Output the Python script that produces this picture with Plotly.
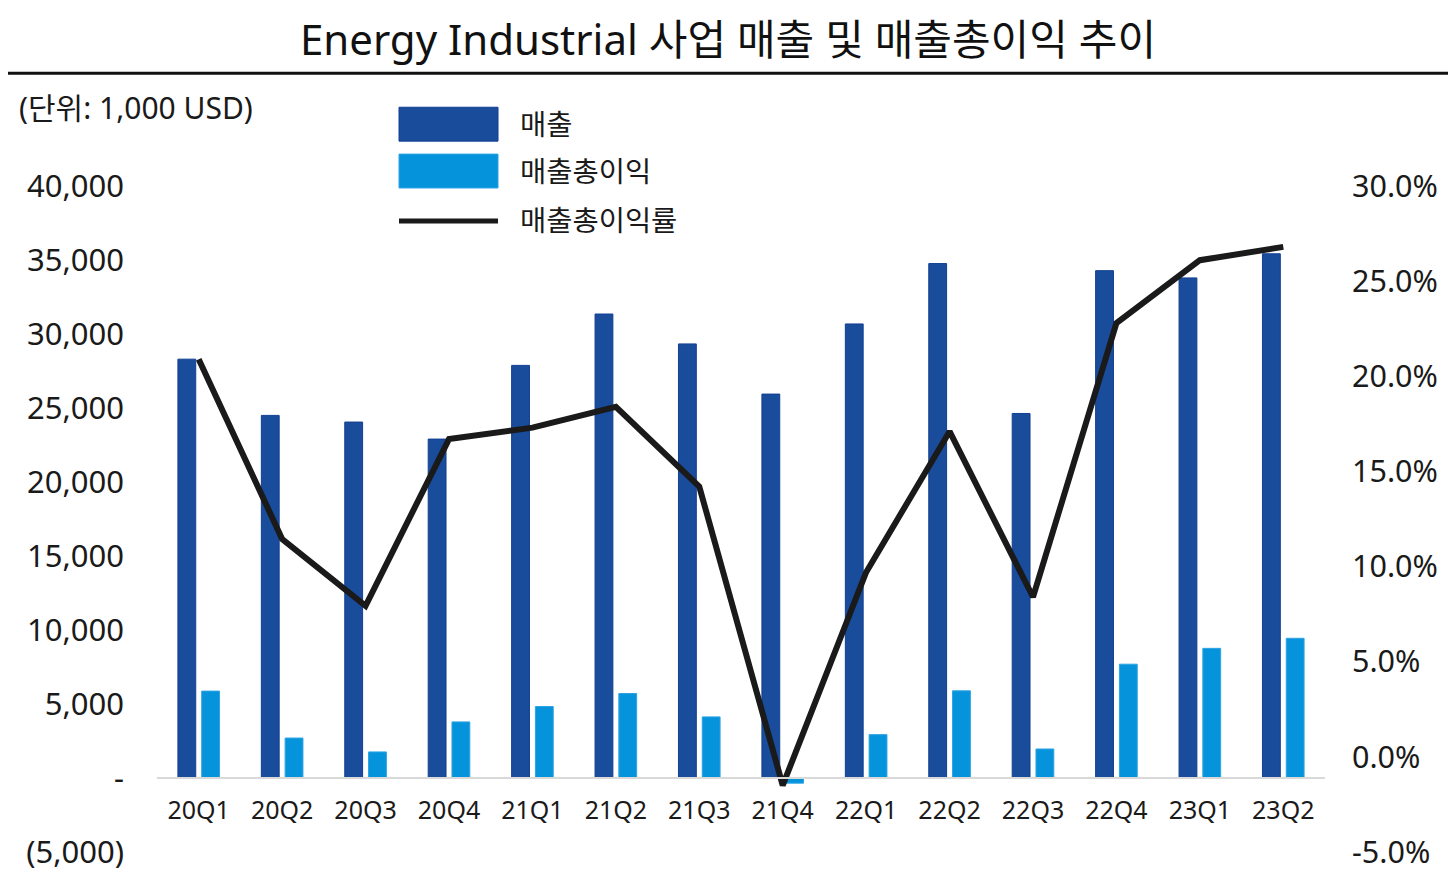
import plotly.graph_objects as go

# ---- data ----
quarters = ["20Q1", "20Q2", "20Q3", "20Q4", "21Q1", "21Q2", "21Q3", "21Q4",
            "22Q1", "22Q2", "22Q3", "22Q4", "23Q1", "23Q2"]
revenue = [28300, 24500, 24050, 22900, 27880, 31350, 29330, 25940,
           30680, 34760, 24630, 34280, 33790, 35420]
gross_profit = [5870, 2700, 1760, 3790, 4830, 5710, 4130, -350,
                2930, 5890, 1960, 7690, 8760, 9440]
gross_margin = [0.209, 0.1145, 0.0794, 0.167, 0.173, 0.184, 0.142, -0.015,
                0.097, 0.171, 0.084, 0.228, 0.261, 0.268]

series_names = ["매출", "매출총이익", "매출총이익률"]

left_tickvals = [-5000, 0, 5000, 10000, 15000, 20000, 25000, 30000, 35000, 40000]
left_ticktext = ["(5,000)", "-", "5,000", "10,000", "15,000", "20,000",
                 "25,000", "30,000", "35,000", "40,000"]
right_tickvals = [-0.05, 0.0, 0.05, 0.10, 0.15, 0.20, 0.25, 0.30]
right_ticktext = ["-5.0%", "0.0%", "5.0%", "10.0%", "15.0%", "20.0%", "25.0%", "30.0%"]

title_text = "Energy Industrial 사업 매출 및 매출총이익 추이"
unit_text = "(단위: 1,000 USD)"

# ---- styling ----
OFF = 8  # page body margin
W, H = 1456 - OFF, 884 - OFF
# plot area in screen pixels: x 157..1325, y 186..854
ML, MR, MT, MB = 157 - OFF, 1456 - 1325, 186 - OFF, 884 - 854
PW, PH = W - ML - MR, H - MT - MB
FONT = "Noto Sans, Noto Sans CJK KR, sans-serif"
TXT = "#1a1a1a"
C_REV = "#1a4c9c"
C_GP = "#0594dc"
C_LINE = "#1a1a1a"


def px_x(x):
    # screen x -> paper
    return (x - OFF - ML) / PW


def px_y(y):
    # screen y -> paper
    return (H - MB - (y - OFF)) / PH


fig = go.Figure()
fig.add_trace(go.Bar(x=quarters, y=revenue, name=series_names[0],
                     marker=dict(color=C_REV, line=dict(color="#123f92", width=1))))
fig.add_trace(go.Bar(x=quarters, y=gross_profit, name=series_names[1],
                     marker=dict(color=C_GP, line=dict(color="#2ea3e4", width=1))))
fig.add_trace(go.Scatter(x=quarters, y=gross_margin, name=series_names[2], yaxis="y2",
                         mode="lines", line=dict(color=C_LINE, width=6)))

ymin, ymax = left_tickvals[0], left_tickvals[-1]

shapes = [
    # title underline
    dict(type="line", xref="paper", yref="paper", x0=px_x(3), x1=px_x(1453),
         y0=px_y(73), y1=px_y(73), line=dict(color="#111111", width=3)),
    # legend swatches
    dict(type="rect", xref="paper", yref="paper", x0=px_x(399), x1=px_x(498),
         y0=px_y(141), y1=px_y(107), fillcolor=C_REV, line=dict(color="#123f92", width=1)),
    dict(type="rect", xref="paper", yref="paper", x0=px_x(399), x1=px_x(498),
         y0=px_y(188), y1=px_y(154), fillcolor=C_GP, line=dict(color="#2ea3e4", width=1)),
    dict(type="line", xref="paper", yref="paper", x0=px_x(399), x1=px_x(498),
         y0=px_y(221), y1=px_y(221), line=dict(color=C_LINE, width=5)),
]

annotations = [
    dict(text=unit_text, xref="paper", yref="paper", x=px_x(17), y=px_y(107),
         xanchor="left", yanchor="middle", showarrow=False,
         font=dict(family=FONT, size=30, color=TXT)),
]
for name, yc in zip(series_names, [124, 171, 220]):
    annotations.append(dict(text=name, xref="paper", yref="paper", x=px_x(518), y=px_y(yc),
                            xanchor="left", yanchor="middle", showarrow=False,
                            font=dict(family=FONT, size=28.5, color=TXT)))

fig.update_layout(
    width=W, height=H,
    margin=dict(l=ML, r=MR, t=MT, b=MB),
    paper_bgcolor="white", plot_bgcolor="white",
    font=dict(family=FONT, color=TXT),
    title=dict(text=title_text, xref="paper", x=px_x(728), xanchor="center",
               y=1 - (40 - OFF) / H, yanchor="middle",
               font=dict(family=FONT, size=42, color="#111111")),
    barmode="group", bargap=0.43, bargroupgap=0.25,
    showlegend=False, hovermode=False,
    xaxis=dict(type="category", showgrid=False, zeroline=False,
               showline=True, linecolor="#d9d9d9", linewidth=1.5,
               anchor="free", position=(0 - ymin) / (ymax - ymin),
               ticks="", ticklabelstandoff=10,
               tickfont=dict(family=FONT, size=25, color=TXT)),
    yaxis=dict(range=[ymin, ymax], tickvals=left_tickvals, ticktext=left_ticktext,
               showgrid=False, zeroline=False, showline=False, ticks="",
               ticklabelstandoff=32,
               tickfont=dict(family=FONT, size=31, color=TXT)),
    yaxis2=dict(range=[right_tickvals[0], right_tickvals[-1]], overlaying="y", side="right",
                tickvals=right_tickvals, ticktext=right_ticktext,
                showgrid=False, zeroline=False, showline=False, ticks="",
                ticklabelstandoff=26,
                tickfont=dict(family=FONT, size=30.5, color=TXT)),
    shapes=shapes,
    annotations=annotations,
)

fig.write_html("out.html")
